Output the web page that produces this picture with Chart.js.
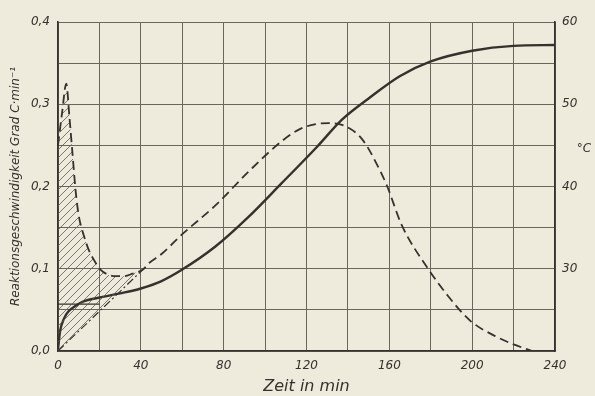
<!DOCTYPE html>
<html>
<head>
<meta charset="utf-8">
<script src="https://cdn.jsdelivr.net/npm/chart.js@4/dist/chart.umd.min.js"></script>
<style>
  html, body { margin: 0; padding: 0; background: #eeeadc; }
  #wrap { width: 595px; height: 396px; }
</style>
</head>
<body>
<div id="wrap"><canvas id="chart"></canvas></div>
<script>
// reaction rate (dashed, left axis, Grad C/min)
const rateTime = [0, 2, 4, 5.5, 7, 8.5, 10, 12.5, 15, 17.5, 20.5, 24, 28, 32, 36, 41, 44, 50, 60, 76, 92, 108, 117, 125, 131, 139, 147, 155, 159, 166, 179, 188, 199, 212, 220, 229];
const rateVal = [0.25, 0.29, 0.325, 0.285, 0.24, 0.195, 0.165, 0.14, 0.122, 0.11, 0.099, 0.093, 0.091, 0.091, 0.094, 0.099, 0.107, 0.118, 0.142, 0.177, 0.218, 0.255, 0.27, 0.276, 0.277, 0.273, 0.257, 0.222, 0.2, 0.153, 0.099, 0.068, 0.037, 0.017, 0.008, 0.0];

// temperature (solid, right axis, °C)
const tempTime = [0, 1, 3, 5, 8, 12, 20, 30, 40, 50, 60, 76, 92, 108, 125, 137, 150, 165, 180, 200, 220, 240];
const tempVal = [20.2, 22.4, 24.0, 24.8, 25.4, 26.0, 26.5, 27.0, 27.6, 28.5, 29.9, 32.7, 36.3, 40.4, 44.8, 48.1, 50.7, 53.4, 55.2, 56.5, 57.1, 57.2];

// tangent from origin (dash-dot) and baseline (thin solid)
const tangentTime = [0, 41];
const tangentVal = [0, 0.099];
const baseTime = [0, 20];
const baseVal = [0.057, 0.057];

const xTicks = [0, 40, 80, 120, 160, 200, 240];
const rightTicks = [30, 40, 50, 60];

const ink = '#36312b';
const gridCol = '#6b655b';
const tickFont = { family: 'DejaVu Sans', size: 12, style: 'italic' };

function pts(xs, ys) {
  return xs.map((x, i) => ({ x: x, y: ys[i] }));
}

function hatch() {
  const c = document.createElement('canvas');
  c.width = 8; c.height = 8;
  const g = c.getContext('2d');
  g.strokeStyle = '#5e584f';
  g.lineWidth = 0.8;
  g.beginPath();
  g.moveTo(0, 8); g.lineTo(8, 0);
  g.moveTo(-2, 2); g.lineTo(2, -2);
  g.moveTo(6, 10); g.lineTo(10, 6);
  g.stroke();
  return g.createPattern(c, 'repeat');
}

const degreeLabel = {
  id: 'degreeLabel',
  afterDraw(chart) {
    const s = chart.scales.y1;
    const ctx = chart.ctx;
    ctx.save();
    ctx.font = 'italic 12px "DejaVu Sans"';
    ctx.fillStyle = ink;
    ctx.textAlign = 'center';
    ctx.textBaseline = 'middle';
    ctx.fillText('°C', s.right - 11, s.getPixelForValue(44.6));
    ctx.restore();
  }
};

new Chart(document.getElementById('chart'), {
  type: 'line',
  data: {
    datasets: [
      {
        data: pts(rateTime, rateVal),
        borderColor: ink,
        borderWidth: 1.8,
        borderDash: [9, 5],
        pointRadius: 0,
        cubicInterpolationMode: 'monotone',
        fill: { target: 2, above: hatch(), below: 'rgba(0,0,0,0)' },
        yAxisID: 'y'
      },
      {
        data: pts(tempTime, tempVal),
        borderColor: ink,
        borderWidth: 2.4,
        pointRadius: 0,
        cubicInterpolationMode: 'monotone',
        fill: false,
        yAxisID: 'y1'
      },
      {
        data: pts(tangentTime, tangentVal),
        borderColor: ink,
        borderWidth: 1.2,
        borderDash: [8, 3, 2, 3],
        pointRadius: 0,
        fill: false,
        yAxisID: 'y'
      },
      {
        data: pts(baseTime, baseVal),
        borderColor: ink,
        borderWidth: 1.4,
        pointRadius: 0,
        fill: false,
        yAxisID: 'y'
      }
    ]
  },
  options: {
    responsive: true,
    maintainAspectRatio: false,
    animation: false,
    layout: { padding: { top: 22, left: 9, right: 0, bottom: 0 } },
    plugins: { legend: { display: false }, tooltip: { enabled: false } },
    scales: {
      x: {
        type: 'linear',
        min: 0,
        max: 240,
        afterFit: (s) => { s.height = 45; },
        ticks: {
          stepSize: 20,
          color: ink,
          font: tickFont,
          padding: 8,
          maxRotation: 0,
          callback: (v) => (xTicks.includes(v) ? v : '')
        },
        grid: { color: gridCol, lineWidth: 1, drawTicks: false },
        border: { color: ink, width: 1.6 },
        title: {
          display: true,
          text: 'Zeit in min',
          color: ink,
          font: { family: 'DejaVu Sans', size: 16, style: 'italic' },
          padding: { top: 0, bottom: 0 }
        }
      },
      y: {
        position: 'left',
        min: 0,
        max: 0.4,
        afterFit: (s) => { s.width = 49; },
        ticks: {
          stepSize: 0.05,
          color: ink,
          font: tickFont,
          padding: 8,
          callback: (v) => {
            const t = Math.round(v * 100);
            return t % 10 === 0 ? (t / 100).toFixed(1).replace('.', ',') : '';
          }
        },
        grid: { color: gridCol, lineWidth: 1, drawTicks: false },
        border: { color: ink, width: 1.6 },
        title: {
          display: true,
          text: 'Reaktionsgeschwindigkeit Grad C·min⁻¹',
          color: ink,
          font: { family: 'DejaVu Sans', size: 12, style: 'italic' },
          padding: { top: 0, bottom: 0 }
        }
      },
      y1: {
        position: 'right',
        min: 20,
        max: 60,
        afterFit: (s) => { s.width = 40; },
        ticks: {
          stepSize: 10,
          color: ink,
          font: tickFont,
          padding: 7,
          callback: (v) => (rightTicks.includes(v) ? v : '')
        },
        grid: { display: false, drawTicks: false },
        border: { color: ink, width: 1.6 }
      }
    }
  },
  plugins: [degreeLabel]
});
</script>
</body>
</html>
